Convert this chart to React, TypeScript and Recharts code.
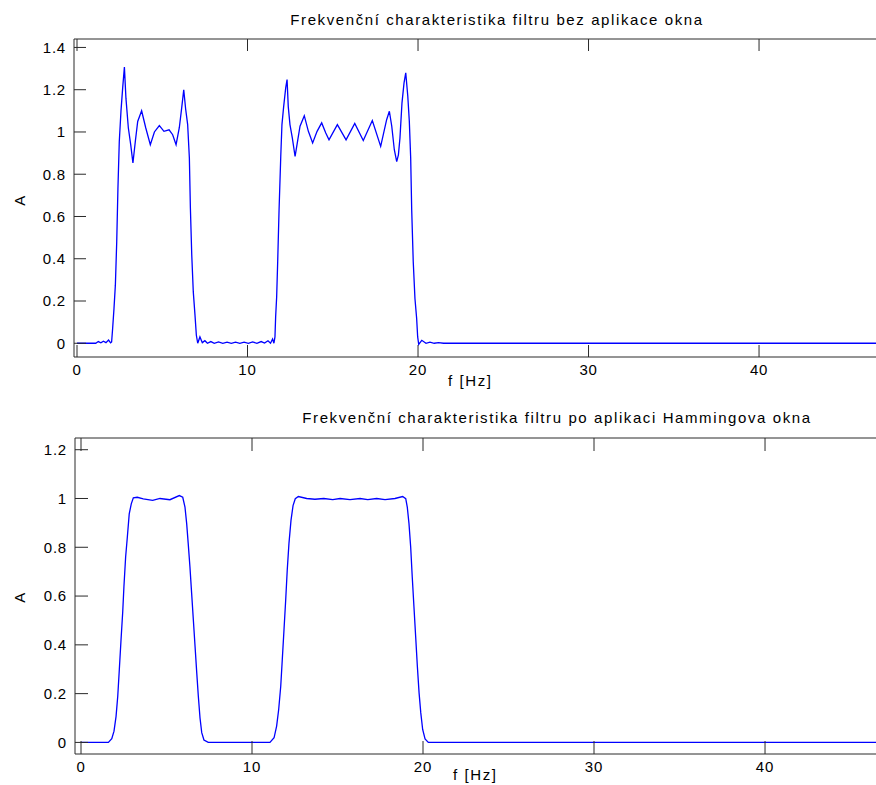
import React from 'react';
import { LineChart, Line, XAxis, YAxis } from 'recharts';

// ---- Top panel (rectangular window) ----
const topFreq = [
  0, 1.1, 1.25, 1.4, 1.55, 1.7, 1.85, 1.97,
  2.03, 2.09, 2.17, 2.25, 2.33, 2.4, 2.48, 2.58, 2.68, 2.78, 2.87, 3.01, 3.15, 3.28, 3.42, 3.56, 3.79, 4.03, 4.3, 4.54, 4.83, 5.1, 5.4, 5.61, 5.81, 6.0, 6.14, 6.26, 6.37, 6.49, 6.59, 6.65, 6.73, 6.82, 6.92, 7.0, 7.08,
  7.21, 7.35, 7.5, 7.65, 7.85, 8.05, 8.3, 8.55, 8.8, 9.05, 9.3, 9.55, 9.8, 10.05, 10.3, 10.55, 10.8, 11.0, 11.2, 11.35, 11.47, 11.55,
  11.61, 11.65, 11.71, 11.77, 11.85, 11.95, 12.02, 12.12, 12.24, 12.32, 12.39, 12.49, 12.63, 12.79, 12.92, 13.08, 13.33, 13.57, 13.82, 14.08, 14.35, 14.59, 14.78, 15.27, 15.78, 16.29, 16.79, 17.32, 17.81, 17.97, 18.16, 18.32, 18.46, 18.61, 18.75, 18.85, 18.94, 19.06, 19.18, 19.28, 19.4, 19.49, 19.57, 19.63, 19.72, 19.82, 19.92, 19.98, 20.04,
  20.22, 20.47, 20.7, 20.95, 21.2, 21.5, 47,
];
const topAmp = [
  0, 0, 0.008, 0.002, 0.01, 0.003, 0.015, 0.002,
  0.006, 0.07, 0.165, 0.275, 0.48, 0.73, 0.955, 1.1, 1.21, 1.307, 1.16, 1.02, 0.94, 0.853, 0.955, 1.05, 1.1, 1.02, 0.94, 1.0, 1.03, 1.003, 1.01, 0.987, 0.94, 1.02, 1.114, 1.2, 1.11, 1.035, 0.877, 0.64, 0.418, 0.243, 0.133, 0.038, 0,
  0.03, 0.003, 0.012, 0, 0.008, 0, 0.006, 0, 0.005, 0, 0.005, 0, 0.005, 0, 0.006, 0, 0.008, 0.001, 0.012, 0, 0.02, 0,
  0.03, 0.125, 0.22, 0.386, 0.63, 0.884, 1.035, 1.12, 1.209, 1.248, 1.12, 1.035, 0.971, 0.884, 0.948, 1.027, 1.077, 1.003, 0.948, 1.003, 1.043, 0.995, 0.963, 1.035, 0.963, 1.04, 0.96, 1.054, 0.932, 0.99, 1.058, 1.098, 1.027, 0.916, 0.86, 0.892, 0.971, 1.138, 1.232, 1.28, 1.169, 1.05, 0.877, 0.631, 0.386, 0.212, 0.117, 0.03, -0.005,
  0.014, 0, 0.005, 0, 0.003, 0, 0,
];

// ---- Bottom panel (Hamming window) ----
const botFreq = [
  0, 1.6, 1.8, 1.93, 2.05, 2.15, 2.24, 2.34, 2.44, 2.51, 2.61, 2.71, 2.82, 2.94, 3.06, 3.29, 3.64, 4.19, 4.62, 5.2, 5.75, 5.95, 6.08, 6.18, 6.27, 6.37, 6.47, 6.57, 6.67, 6.77, 6.86, 6.96, 7.06, 7.19, 7.44,
  11.05, 11.29, 11.44, 11.56, 11.68, 11.77, 11.87, 11.97, 12.06, 12.16, 12.28, 12.4, 12.53, 12.71, 13.2, 13.68, 14.2, 14.72, 15.15, 15.73, 16.32, 16.77, 17.29, 17.78, 18.36, 18.81, 18.99, 19.08, 19.18, 19.28, 19.37, 19.47, 19.57, 19.67, 19.77, 19.87, 19.98, 20.12, 20.31, 47,
];
const botAmp = [
  0, 0, 0.015, 0.046, 0.107, 0.19, 0.298, 0.42, 0.536, 0.638, 0.76, 0.842, 0.937, 0.978, 1.003, 1.005, 0.998, 0.992, 1.0, 0.995, 1.012, 1.005, 0.965, 0.897, 0.815, 0.72, 0.611, 0.502, 0.393, 0.284, 0.19, 0.1, 0.04, 0.01, 0,
  0, 0.019, 0.067, 0.135, 0.23, 0.339, 0.461, 0.584, 0.706, 0.815, 0.91, 0.971, 0.999, 1.008, 1.0, 0.997, 1.0, 0.995, 1.0, 0.995, 1.0, 0.995, 1.0, 0.995, 1.0, 1.008, 0.999, 0.965, 0.897, 0.8, 0.679, 0.556, 0.434, 0.311, 0.203, 0.121, 0.053, 0.014, 0, 0,
];

const xTicks = [0, 10, 20, 30, 40];
const topYTicks = [0, 0.2, 0.4, 0.6, 0.8, 1, 1.2, 1.4];
const botYTicks = [0, 0.2, 0.4, 0.6, 0.8, 1, 1.2];
const topTitle = 'Frekvenční charakteristika filtru bez aplikace okna';
const botTitle = 'Frekvenční charakteristika filtru po aplikaci Hammingova okna';
const xLabel = 'f [Hz]';
const yLabel = 'A';

const topData = topFreq.map((f, i) => ({ f, a: topAmp[i] }));
const botData = botFreq.map((f, i) => ({ f, a: botAmp[i] }));

const FONT = '"Liberation Sans", Arial, sans-serif';
const AXIS = '#2a2a2a';
const TICK_FONT = 15;
const GAP_X = 7; // label gap below bottom axis
const GAP_Y = 8; // label gap left of y axis

const textBase: React.CSSProperties = {
  position: 'absolute',
  fontFamily: FONT,
  fontSize: 15,
  color: '#000',
  whiteSpace: 'nowrap',
  letterSpacing: 1.6,
  lineHeight: '18px',
};

function makeBottomTick(len: number) {
  return (p: any) => {
    const axisY = p.y - GAP_X;
    return (
      <g>
        <line x1={p.x} y1={axisY} x2={p.x} y2={axisY - len} stroke={AXIS} strokeWidth={1} />
        <text
          x={p.x}
          y={p.y}
          dy="0.71em"
          textAnchor="middle"
          fontFamily={FONT}
          fontSize={TICK_FONT}
          fill="#000"
          letterSpacing={0.8}
        >
          {p.payload.value}
        </text>
      </g>
    );
  };
}

function makeTopTick(len: number) {
  return (p: any) => {
    const axisY = p.y + 1;
    return <line x1={p.x} y1={axisY} x2={p.x} y2={axisY + len} stroke={AXIS} strokeWidth={1} />;
  };
}

function makeLeftTick(len: number) {
  return (p: any) => {
    const axisX = p.x + GAP_Y;
    return (
      <g>
        <line x1={axisX} y1={p.y} x2={axisX + len} y2={p.y} stroke={AXIS} strokeWidth={1} />
        <text
          x={p.x}
          y={p.y}
          dy="0.355em"
          textAnchor="end"
          fontFamily={FONT}
          fontSize={TICK_FONT}
          fill="#000"
          letterSpacing={0.8}
        >
          {p.payload.value}
        </text>
      </g>
    );
  };
}

function Panel(props: {
  data: { f: number; a: number }[];
  yTicks: number[];
  yDomain: [number, number];
  xDomain: [number, number];
  yAxisWidth: number;
  height: number;
  marginTop: number;
  bottomH: number;
  tickLen: number;
}) {
  const { data, yTicks, yDomain, xDomain, yAxisWidth, height, marginTop, bottomH, tickLen } = props;
  return (
    <LineChart
      width={876}
      height={height}
      data={data}
      margin={{ top: marginTop, right: 0, bottom: 0, left: 0 }}
    >
      <XAxis
        xAxisId="top"
        orientation="top"
        dataKey="f"
        type="number"
        domain={xDomain}
        allowDataOverflow
        ticks={xTicks}
        height={1}
        tickSize={0}
        tickMargin={1}
        tick={makeTopTick(tickLen)}
        tickLine={false}
        axisLine={{ stroke: AXIS }}
        interval={0}
      />
      <XAxis
        dataKey="f"
        type="number"
        domain={xDomain}
        allowDataOverflow
        ticks={xTicks}
        height={bottomH}
        tickSize={0}
        tickMargin={GAP_X}
        tick={makeBottomTick(tickLen)}
        tickLine={false}
        axisLine={{ stroke: AXIS }}
        interval={0}
      />
      <YAxis
        type="number"
        domain={yDomain}
        allowDataOverflow
        ticks={yTicks}
        width={yAxisWidth}
        tickSize={0}
        tickMargin={GAP_Y}
        tick={makeLeftTick(tickLen)}
        tickLine={false}
        axisLine={{ stroke: AXIS }}
        interval={0}
      />
      <Line
        dataKey="a"
        type="linear"
        stroke="#0000ff"
        strokeWidth={1.3}
        dot={false}
        activeDot={false}
        isAnimationActive={false}
      />
    </LineChart>
  );
}

export default function App() {
  return (
    <div
      style={{
        position: 'absolute',
        left: 0,
        top: 0,
        width: 876,
        height: 785,
        overflow: 'hidden',
        background: '#fff',
      }}
    >
      <div style={{ position: 'absolute', left: 0, top: 0 }}>
        <Panel
          data={topData}
          yTicks={topYTicks}
          yDomain={[-0.065, 1.44]}
          xDomain={[-0.176, 46.86]}
          yAxisWidth={74}
          height={400}
          marginTop={38}
          bottomH={43}
          tickLen={12}
        />
      </div>
      <div style={{ position: 'absolute', left: 0, top: 400 }}>
        <Panel
          data={botData}
          yTicks={botYTicks}
          yDomain={[-0.0475, 1.248]}
          xDomain={[-0.351, 46.49]}
          yAxisWidth={75}
          height={385}
          marginTop={37}
          bottomH={31}
          tickLen={13}
        />
      </div>

      <div style={{ ...textBase, left: 497, top: 20, transform: 'translate(-50%, -50%)' }}>{topTitle}</div>
      <div style={{ ...textBase, left: 557, top: 418, transform: 'translate(-50%, -50%)' }}>{botTitle}</div>

      <div style={{ ...textBase, left: 448, top: 381, transform: 'translateY(-50%)' }}>{xLabel}</div>
      <div style={{ ...textBase, left: 453, top: 775, transform: 'translateY(-50%)' }}>{xLabel}</div>

      <div style={{ ...textBase, left: 20, top: 200, transform: 'translate(-50%, -50%) rotate(-90deg)' }}>{yLabel}</div>
      <div style={{ ...textBase, left: 20, top: 597, transform: 'translate(-50%, -50%) rotate(-90deg)' }}>{yLabel}</div>
    </div>
  );
}
